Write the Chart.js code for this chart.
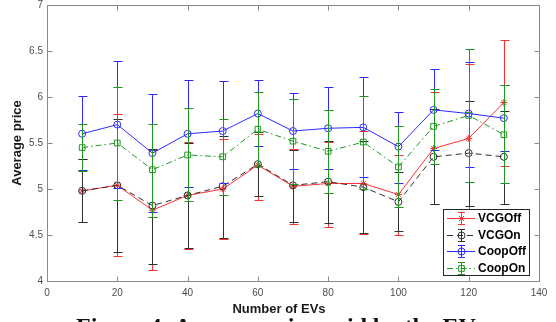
<!DOCTYPE html>
<html>
<head>
<meta charset="utf-8">
<script src="https://cdn.jsdelivr.net/npm/chart.js@4/dist/chart.umd.min.js"></script>
<style>
  html, body { margin: 0; padding: 0; background: #fff; overflow: hidden; }
  #wrap { position: relative; width: 556px; height: 322px; overflow: hidden; }
  #caption {
    position: absolute; left: 76px; top: 314px; white-space: nowrap;
    font: bold 24px/1 "Liberation Serif", "Times New Roman", serif; color: #111;
  }
</style>
</head>
<body>
<div id="wrap">
  <canvas id="chart" width="556" height="322"></canvas>
  <div id="caption">Figure 4: Average price paid by the EV</div>
</div>
<script>
// number of EVs
const evCounts = [10, 20, 30, 40, 50, 60, 70, 80, 90, 100, 110, 120, 130];
const seriesNames = ['VCGOff', 'VCGOn', 'CoopOff', 'CoopOn'];

const vcgOff   = [4.98, 5.04, 4.77, 4.93, 5.00, 5.26, 5.03, 5.06, 5.06, 4.94, 5.44, 5.55, 5.94];
const vcgOffHi = [5.33, 5.81, 5.42, 5.51, 5.54, 5.60, 5.44, 5.51, 5.63, 5.37, 6.05, 6.36, 6.62];
const vcgOffLo = [4.64, 4.27, 4.12, 4.35, 4.46, 4.88, 4.62, 4.59, 4.51, 4.50, 4.84, 4.74, 5.25];

const vcgOn   = [4.98, 5.04, 4.82, 4.93, 5.03, 5.27, 5.04, 5.08, 5.02, 4.86, 5.35, 5.39, 5.35];
const vcgOnHi = [5.33, 5.76, 5.44, 5.50, 5.58, 5.62, 5.42, 5.52, 5.52, 5.19, 5.87, 5.96, 5.85];
const vcgOnLo = [4.64, 4.31, 4.19, 4.36, 4.47, 4.92, 4.64, 4.63, 4.52, 4.54, 4.84, 4.82, 4.84];

const coopOff   = [5.60, 5.70, 5.39, 5.60, 5.63, 5.82, 5.63, 5.66, 5.67, 5.46, 5.86, 5.82, 5.77];
const coopOffHi = [6.01, 6.39, 6.03, 6.18, 6.17, 6.18, 6.04, 6.11, 6.22, 5.84, 6.30, 6.38, 6.13];
const coopOffLo = [5.21, 5.01, 4.75, 5.02, 5.07, 5.47, 5.22, 5.22, 5.13, 5.06, 5.42, 5.24, 5.41];

const coopOn   = [5.45, 5.50, 5.21, 5.37, 5.35, 5.65, 5.52, 5.41, 5.51, 5.24, 5.68, 5.80, 5.59];
const coopOnHi = [5.71, 6.11, 5.71, 5.88, 5.76, 6.05, 5.98, 5.86, 6.01, 5.69, 6.09, 6.52, 6.13];
const coopOnLo = [5.20, 4.88, 4.70, 4.87, 4.94, 5.25, 5.05, 4.96, 5.00, 4.80, 5.27, 5.08, 5.06];

const xTicks = [0, 20, 40, 60, 80, 100, 120, 140];
const yTicks = [4, 4.5, 5, 5.5, 6, 6.5, 7];

const FONT = '"Liberation Sans", Arial, sans-serif';
const AXIS_COLOR = '#8a8a8a';

const styles = [
  { color: '#ff3030', dash: [], point: 'star', radius: 3.5 },
  { color: '#303030', dash: [6, 4], point: 'circle', radius: 3.5 },
  { color: '#2a2aff', dash: [], point: 'circle', radius: 3.5 },
  { color: '#1f961f', dash: [6, 3, 1.5, 3], point: 'rect', radius: 4 }
];
const centers = [vcgOff, vcgOn, coopOff, coopOn];
const highs = [vcgOffHi, vcgOnHi, coopOffHi, coopOnHi];
const lows = [vcgOffLo, vcgOnLo, coopOffLo, coopOnLo];

const datasets = seriesNames.map((name, i) => ({
  label: name,
  data: evCounts.map((x, j) => ({ x: x, y: centers[i][j] })),
  borderColor: styles[i].color,
  borderWidth: 1,
  borderDash: styles[i].dash,
  pointStyle: styles[i].point,
  pointRadius: styles[i].radius,
  pointBorderColor: styles[i].color,
  pointBackgroundColor: 'rgba(0,0,0,0)',
  pointBorderWidth: 1,
  tension: 0,
  order: 4 - i
}));

const px = v => Math.round(v) + 0.5;

// error bars under each series' own line
const errorBars = {
  id: 'errorBars',
  beforeDatasetDraw(chart, args) {
    const i = args.index;
    const ctx = chart.ctx;
    const xs = chart.scales.x, ys = chart.scales.y;
    ctx.save();
    ctx.strokeStyle = styles[i].color;
    ctx.lineWidth = 1;
    ctx.setLineDash([]);
    ctx.beginPath();
    evCounts.forEach((x, j) => {
      const cx = px(xs.getPixelForValue(x));
      const top = px(ys.getPixelForValue(highs[i][j]));
      const bot = px(ys.getPixelForValue(lows[i][j]));
      ctx.moveTo(cx, top); ctx.lineTo(cx, bot);
      ctx.moveTo(cx - 4, top); ctx.lineTo(cx + 5, top);
      ctx.moveTo(cx - 4, bot); ctx.lineTo(cx + 5, bot);
    });
    ctx.stroke();
    ctx.restore();
  }
};

// matlab style box, inward ticks, legend, x title
const frame = {
  id: 'frame',
  afterDatasetsDraw(chart) {
    const ctx = chart.ctx;
    const a = chart.chartArea;
    const xs = chart.scales.x, ys = chart.scales.y;
    const L = px(a.left), R = px(a.right), T = px(a.top), B = px(a.bottom);
    ctx.save();
    ctx.strokeStyle = AXIS_COLOR;
    ctx.lineWidth = 1;
    ctx.beginPath();
    ctx.rect(L, T, R - L, B - T);
    xTicks.forEach(v => {
      const x = px(xs.getPixelForValue(v));
      ctx.moveTo(x, B); ctx.lineTo(x, B - 5);
      ctx.moveTo(x, T); ctx.lineTo(x, T + 5);
    });
    yTicks.forEach(v => {
      const y = px(ys.getPixelForValue(v));
      ctx.moveTo(L, y); ctx.lineTo(L + 5, y);
      ctx.moveTo(R, y); ctx.lineTo(R - 5, y);
    });
    ctx.stroke();

    // legend
    const bx = 443.5, by = 209.5, bw = 86, bh = 66;
    ctx.fillStyle = '#fff';
    ctx.fillRect(bx, by, bw, bh);
    ctx.strokeStyle = '#262626';
    ctx.strokeRect(bx, by, bw, bh);
    seriesNames.forEach((name, i) => {
      const y = Math.round(218 + i * 16.6) + 0.5;
      const st = styles[i];
      ctx.strokeStyle = st.color;
      ctx.setLineDash(st.dash);
      ctx.beginPath();
      ctx.moveTo(447, y); ctx.lineTo(475, y);
      ctx.stroke();
      ctx.setLineDash([]);
      ctx.beginPath();
      ctx.moveTo(461.5, y - 6); ctx.lineTo(461.5, y + 6);
      ctx.moveTo(458, y - 6); ctx.lineTo(465, y - 6);
      ctx.moveTo(458, y + 6); ctx.lineTo(465, y + 6);
      ctx.stroke();
      ctx.fillStyle = 'rgba(0,0,0,0)';
      Chart.helpers.drawPoint(ctx, { pointStyle: st.point, radius: st.radius, borderWidth: 1, rotation: 0 }, 461.5, y);
      ctx.fillStyle = '#000';
      ctx.font = 'bold 12px ' + FONT;
      ctx.textAlign = 'left';
      ctx.textBaseline = 'middle';
      ctx.fillText(name, 478, y + 0.5);
    });

    // x axis title
    ctx.fillStyle = '#1a1a1a';
    ctx.font = 'bold 13px ' + FONT;
    ctx.textAlign = 'center';
    ctx.textBaseline = 'middle';
    ctx.fillText('Number of EVs', 279, 309);
    ctx.restore();
  }
};

new Chart(document.getElementById('chart').getContext('2d'), {
  type: 'line',
  data: { datasets: datasets },
  options: {
    responsive: false,
    animation: false,
    devicePixelRatio: 1,
    layout: { padding: { left: 0, right: 17, top: 3, bottom: 0 } },
    plugins: { legend: { display: false }, tooltip: { enabled: false } },
    scales: {
      x: {
        type: 'linear', min: 0, max: 140,
        afterBuildTicks: s => { s.ticks = xTicks.map(v => ({ value: v })); },
        ticks: { padding: 6, color: '#4d4d4d', font: { size: 10, family: FONT }, maxRotation: 0 },
        grid: { display: false, drawTicks: false },
        border: { display: false },
        afterFit: s => { s.height = 41; s.paddingLeft = 0; s.paddingRight = 0; }
      },
      y: {
        type: 'linear', min: 4, max: 7,
        afterBuildTicks: s => { s.ticks = yTicks.map(v => ({ value: v })); },
        ticks: { padding: 4, color: '#4d4d4d', font: { size: 10, family: FONT }, callback: v => String(v) },
        grid: { display: false, drawTicks: false },
        border: { display: false },
        title: {
          display: true, text: 'Average price', color: '#1a1a1a',
          font: { size: 13, weight: 'bold', family: FONT },
          padding: { top: 10, bottom: 0 }
        },
        afterFit: s => { s.width = 47; s.paddingTop = 0; s.paddingBottom = 0; }
      }
    }
  },
  plugins: [errorBars, frame]
});
</script>
</body>
</html>
